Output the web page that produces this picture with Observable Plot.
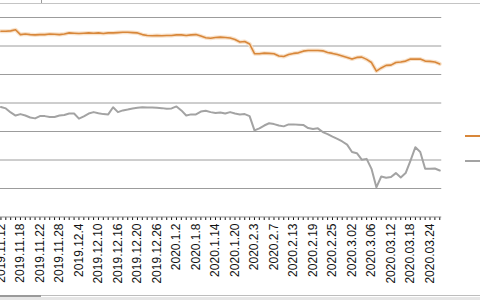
<!DOCTYPE html>
<html><head><meta charset="utf-8">
<script src="https://cdn.jsdelivr.net/npm/d3@7"></script>
<script src="https://cdn.jsdelivr.net/npm/@observablehq/plot@0.6"></script>
<style>
html,body{margin:0;padding:0;background:#fff;overflow:hidden;width:480px;height:300px;}
#wrap{position:relative;width:480px;height:300px;overflow:hidden;}
#chart{position:absolute;left:0;top:0;}
.deco{position:absolute;}
</style></head>
<body><div id="wrap"><div id="chart"></div>
<div class="deco" style="left:0;top:3px;width:480px;height:1px;background:#c4c4c4"></div>
<div class="deco" style="left:41px;top:0;width:1px;height:3px;background:#9a9a9a"></div>
<div class="deco" style="left:0;top:295px;width:480px;height:1px;background:#bdbdbd"></div>
<div class="deco" style="left:0;top:295px;width:41px;height:2px;background:#9a9a9a"></div>
<div class="deco" style="left:0;top:297px;width:480px;height:3px;background:#e6e6e6"></div>
<div class="deco" id="leg1" style="left:465px;top:135px;width:15px;height:2px;background:#d8873a"></div>
<div class="deco" id="leg2" style="left:465px;top:160px;width:15px;height:2px;background:#a3a3a3"></div>
</div>
<script>
const dates = [
"2019.11.12","2019.11.13","2019.11.14","2019.11.15","2019.11.18","2019.11.19","2019.11.20","2019.11.21","2019.11.22","2019.11.25","2019.11.26","2019.11.27","2019.11.28","2019.11.29",
"2019.12.2","2019.12.3","2019.12.4","2019.12.5","2019.12.6","2019.12.9","2019.12.10","2019.12.11","2019.12.12","2019.12.13","2019.12.16","2019.12.17","2019.12.18","2019.12.19","2019.12.20","2019.12.23","2019.12.24","2019.12.25","2019.12.26","2019.12.27","2019.12.30","2019.12.31",
"2020.1.2","2020.1.3","2020.1.6","2020.1.7","2020.1.8","2020.1.9","2020.1.10","2020.1.13","2020.1.14","2020.1.15","2020.1.16","2020.1.17","2020.1.20","2020.1.21","2020.1.22","2020.1.23",
"2020.2.3","2020.2.4","2020.2.5","2020.2.6","2020.2.7","2020.2.10","2020.2.11","2020.2.12","2020.2.13","2020.2.14","2020.2.17","2020.2.18","2020.2.19","2020.2.20","2020.2.21","2020.2.24","2020.2.25","2020.2.26","2020.2.27","2020.2.28",
"2020.3.02","2020.3.03","2020.3.04","2020.3.05","2020.3.06","2020.3.09","2020.03.10","2020.03.11","2020.03.12","2020.03.13","2020.03.16","2020.03.17","2020.03.18","2020.03.19","2020.03.20","2020.03.23","2020.03.24","2020.03.25","2020.03.26"
];
const tickLabels = ["2019.11.12","2019.11.18","2019.11.22","2019.11.28","2019.12.4","2019.12.10","2019.12.16","2019.12.20","2019.12.26","2020.1.2","2020.1.8","2020.1.14","2020.1.20","2020.2.3","2020.2.7","2020.2.13","2020.2.19","2020.2.25","2020.3.02","2020.3.06","2020.03.12","2020.03.18","2020.03.24"];
const orangeSeries = [6.52,6.52,6.53,6.57,6.40,6.42,6.40,6.39,6.40,6.40,6.42,6.41,6.40,6.42,6.46,6.45,6.44,6.45,6.46,6.45,6.46,6.44,6.46,6.46,6.47,6.48,6.48,6.47,6.46,6.40,
6.37,6.36,6.37,6.36,6.37,6.37,6.39,6.39,6.37,6.39,6.40,6.35,6.29,6.27,6.30,6.31,6.30,6.28,6.23,6.14,
6.16,6.07,5.73,5.73,5.75,5.74,5.73,5.65,5.63,5.70,5.74,5.76,5.82,5.84,5.84,5.84,5.83,5.77,5.74,5.70,
5.65,5.60,5.54,5.60,5.61,5.53,5.42,5.12,5.23,5.32,5.33,5.42,5.44,5.47,5.54,5.54,5.54,5.47,5.46,5.44,5.37];
const graySeries = [3.86,3.81,3.67,3.56,3.61,3.56,3.49,3.46,3.54,3.54,3.51,3.51,3.56,3.58,3.63,3.63,3.45,3.53,3.63,3.68,3.64,3.61,3.60,3.85,3.68,3.74,3.77,3.81,3.83,3.85,
3.84,3.84,3.83,3.82,3.80,3.81,3.88,3.74,3.56,3.60,3.60,3.70,3.73,3.68,3.65,3.67,3.63,3.68,3.63,3.60,
3.61,3.54,3.04,3.11,3.21,3.29,3.26,3.21,3.18,3.25,3.25,3.24,3.23,3.12,3.09,3.11,2.98,2.91,2.82,2.74,
2.65,2.54,2.28,2.24,2.01,2.04,1.69,1.04,1.42,1.38,1.40,1.54,1.39,1.54,1.98,2.45,2.28,1.69,1.69,1.70,1.63];
const gridValues = [1,2,3,4,5,6,7];

const labelSet = new Set(tickLabels);
const rows = dates.map((d,i)=>({date:d, orange:orangeSeries[i], gray:graySeries[i]}));
const firstDate = dates[0], lastDate = dates[dates.length-1];

const chart = Plot.plot({
  width: 480, height: 300,
  marginLeft: 0, marginRight: 0, marginTop: 0, marginBottom: 83,
  style: {fontFamily: "'Liberation Sans', Arial, sans-serif", fontSize: "12px", color: "#111", background: "transparent", overflow: "visible"},
  x: {type: "point", domain: dates, range: [-2, 441.7], tickSize: 3, tickRotate: -90, tickPadding: 3,
      tickFormat: d => labelSet.has(d) ? d : "", label: null},
  y: {domain: [0, 7], range: [216.5, 17], axis: null},
  marks: [
    Plot.ruleY(gridValues, {y: d => d, x1: () => firstDate, x2: () => lastDate, stroke: "#9c9c9c", strokeWidth: 1, insetLeft: -3, insetRight: -2}),
    Plot.ruleY([0], {y: d => d, x1: () => firstDate, x2: () => lastDate, stroke: "#8c8c8c", strokeWidth: 1, insetLeft: -3, insetRight: -2}),
    Plot.line(rows, {x: "date", y: "orange", stroke: "#f8e2cb", strokeWidth: 4}),
    Plot.line(rows, {x: "date", y: "orange", stroke: "#d8873a", strokeWidth: 1.6}),
    Plot.line(rows, {x: "date", y: "gray", stroke: "#a3a3a3", strokeWidth: 2})
  ]
});
document.getElementById("chart").appendChild(chart);
</script>
</body></html>
